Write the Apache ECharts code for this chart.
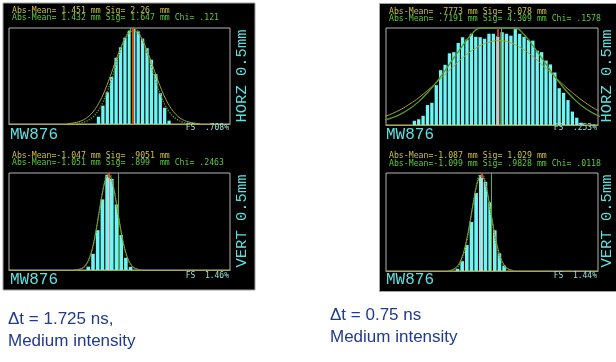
<!DOCTYPE html>
<html><head><meta charset="utf-8">
<script src="https://cdn.jsdelivr.net/npm/echarts@6/dist/echarts.min.js"></script>
<style>html,body{margin:0;padding:0;background:#fff}#c{width:616px;height:362px}</style>
</head><body><div id="c"></div>
<script>
// ---------- data (bin index on x, percent of events on y) ----------
const tlFS = 0.708, trFS = 0.253, blFS = 1.46, brFS = 1.44;

const tlBarStart = 20;
const tlBars = [0.054,0.135,0.234,0.347,0.489,0.566,0.637,0.687,0.701,0.683,0.630,0.559,0.474,0.368,0.227,0.120,0.025];
const tlGreenStart = 15, tlGreenStep = 1;
const tlGreen = [0.004,0.008,0.017,0.033,0.060,0.101,0.160,0.239,0.334,0.440,0.544,0.632,0.690,0.708,0.682,0.617,0.525,0.418,0.314,0.222,0.147,0.091,0.053,0.029,0.015,0.007,0.004];
const tlYellowStart = 13, tlYellowStep = 1;
const tlYellow = [0.003,0.006,0.012,0.022,0.038,0.063,0.099,0.149,0.214,0.293,0.382,0.473,0.559,0.628,0.673,0.687,0.667,0.617,0.542,0.455,0.363,0.276,0.199,0.138,0.091,0.056,0.033,0.019,0.011,0.005,0.003];
const tlMarkers = {red: 27.68, green: 27.2};

const trBarStart = 6;
const trBars = [0.011,0.015,0.024,0.052,0.058,0.104,0.143,0.157,0.187,0.190,0.214,0.229,0.223,0.238,0.230,0.229,0.225,0.238,0.238,0.231,0.242,0.238,0.233,0.250,0.238,0.230,0.222,0.220,0.194,0.190,0.168,0.158,0.137,0.096,0.084,0.065,0.035,0.019,0.006];
const trHighlightBin = 25;
const trYellowStart = -1, trYellowStep = 2;
const trYellow = [0.021,0.030,0.041,0.055,0.071,0.090,0.110,0.132,0.154,0.175,0.193,0.207,0.216,0.220,0.218,0.209,0.196,0.179,0.158,0.137,0.115,0.094,0.075,0.058,0.043,0.032];
const trGreenStart = -1, trGreenStep = 2;
const trGreen = [0.012,0.019,0.029,0.043,0.061,0.084,0.111,0.142,0.175,0.207,0.236,0.253,0.253,0.253,0.253,0.253,0.236,0.207,0.175,0.142,0.111,0.084,0.061,0.043,0.029,0.019];
const trMarkers = {red: 24.9, green: 25.9};

const blBarStart = 17;
const blBars = [0.050,0.244,0.599,1.063,1.431,1.372,0.986,0.526,0.183,0.047];
const blGreenStart = 14, blGreenStep = 0.5;
const blGreen = [0.001,0.003,0.008,0.018,0.036,0.070,0.128,0.219,0.349,0.521,0.729,0.953,1.169,1.342,1.442,1.453,1.369,1.209,0.999,0.772,0.559,0.380,0.241,0.143,0.080,0.042,0.020,0.009,0.004,0.001];
const blYellowStart = 14, blYellowStep = 0.5;
const blYellow = [0.002,0.004,0.010,0.021,0.043,0.080,0.142,0.235,0.366,0.536,0.738,0.954,1.158,1.320,1.414,1.423,1.346,1.194,0.997,0.781,0.575,0.398,0.259,0.157,0.090,0.049,0.024,0.011,0.005];
const blMarkers = {red: 21.45, green: 23.4};

const brBarStart = 15;
const brBars = [0.032,0.144,0.382,0.720,1.145,1.411,1.310,1.008,0.598,0.259,0.079];
const brGreenStart = 13, brGreenStep = 0.5;
const brGreen = [0.003,0.006,0.014,0.029,0.056,0.102,0.176,0.285,0.433,0.619,0.829,1.045,1.238,1.377,1.439,1.411,1.302,1.128,0.917,0.701,0.503,0.340,0.215,0.128,0.072,0.037,0.019,0.009,0.004];
const brYellowStart = 13, brYellowStep = 0.5;
const brYellow = [0.005,0.010,0.021,0.040,0.073,0.127,0.209,0.322,0.472,0.651,0.850,1.047,1.221,1.344,1.399,1.375,1.277,1.121,0.930,0.728,0.540,0.378,0.249,0.155,0.092,0.051,0.027,0.013,0.006];
const brMarkers = {red: 20.15, green: 22.15};

const fitTexts = {
  tl: ['Abs-Mean= 1.451 mm Sig= 2.26  mm', 'Abs-Mean= 1.432 mm Sig= 1.647 mm Chi= .121'],
  tr: ['Abs-Mean= .7773 mm Sig= 5.078 mm', 'Abs-Mean= .7191 mm Sig= 4.309 mm Chi= .1578'],
  bl: ['Abs-Mean=-1.047 mm Sig= .9051 mm', 'Abs-Mean=-1.051 mm Sig= .899  mm Chi= .2463'],
  br: ['Abs-Mean=-1.087 mm Sig= 1.029 mm', 'Abs-Mean=-1.099 mm Sig= .9828 mm Chi= .0118']
};
const fsTexts = {tl: 'FS  .708%', tr: 'FS  .253%', bl: 'FS  1.46%', br: 'FS  1.44%'};
const chamber = 'MW876';
const planeTexts = {top: 'HORZ 0.5mm', bottom: 'VERT 0.5mm'};
const captionLeft = ['\u0394t = 1.725 ns,', 'Medium intensity'];
const captionRight = ['\u0394t = 0.75 ns', 'Medium intensity'];

// ---------- build ----------
function pts(start, step, vals) { return vals.map((v, i) => [start + i * step, v]); }

const CYAN = '#70f4f4', GREEN = '#5a9a2a', YELLOW = '#aca238', RED = '#d04828';
const panels = [
  {grid:{left:9,top:28,width:221,height:96}, xmin:-0.27, xmax:49.8, fs:tlFS, barStart:tlBarStart, bars:tlBars,
   green:pts(tlGreenStart,tlGreenStep,tlGreen), yellow:pts(tlYellowStart,tlYellowStep,tlYellow), mk:tlMarkers, bw:3.3, gType:'dotted', style:'full'},
  {grid:{left:386,top:28,width:212,height:97}, xmin:-0.45, xmax:47.84, fs:trFS, barStart:trBarStart, bars:trBars,
   green:pts(trGreenStart,trGreenStep,trGreen), yellow:pts(trYellowStart,trYellowStep,trYellow), mk:trMarkers, bw:3.3, gType:'solid', style:'tr', hl:trHighlightBin},
  {grid:{left:9,top:173,width:221,height:97}, xmin:0.13, xmax:47.15, fs:blFS, barStart:blBarStart, bars:blBars,
   green:pts(blGreenStart,blGreenStep,blGreen), yellow:pts(blYellowStart,blYellowStep,blYellow), mk:blMarkers, bw:3.6, gType:'dotted', style:'white'},
  {grid:{left:386,top:173,width:212,height:98}, xmin:-0.34, xmax:45.15, fs:brFS, barStart:brBarStart, bars:brBars,
   green:pts(brGreenStart,brGreenStep,brGreen), yellow:pts(brYellowStart,brYellowStep,brYellow), mk:brMarkers, bw:3.6, gType:'dotted', style:'white'}
];

const grids = [], xAxes = [], yAxes = [], series = [];
panels.forEach((p, i) => {
  grids.push(Object.assign({show:true, borderColor:'#b4b4b4', borderWidth:1, backgroundColor:'#000', containLabel:false}, p.grid));
  xAxes.push({type:'value', gridIndex:i, min:p.xmin, max:p.xmax, axisLabel:{show:false}, axisTick:{show:false},
    splitLine:{show:false}, axisLine:{show:true, lineStyle:{color:'#b0a830', width:1.2}}});
  yAxes.push({type:'value', gridIndex:i, min:0, max:p.fs, show:false, splitLine:{show:false}});
  const barData = p.bars.map((v, k) => {
    const x = p.barStart + k;
    if (p.hl !== undefined && x === p.hl) return {value:[x, v], itemStyle:{color:'#c8c8c8'}};
    return [x, v];
  });
  let mlData = [];
  if (p.style === 'full') {
    mlData.push({xAxis:p.mk.red, lineStyle:{color:RED, width:2, type:'solid'}});
  } else if (p.style === 'tr') {
    mlData.push([{coord:[p.mk.red, p.fs], lineStyle:{color:'#c03040', width:2, type:'solid'}}, {coord:[p.mk.red, 0.231]}]);
  } else {
    mlData.push({xAxis:p.mk.red, lineStyle:{color:'#e0d8d8', width:1.5, type:'solid'}});
    mlData.push([{coord:[p.mk.red, p.fs], lineStyle:{color:RED, width:2, type:'solid'}}, {coord:[p.mk.red, p.fs*0.95]}]);
  }
  mlData.push({xAxis:p.mk.green, lineStyle:{color:'#60b030', width:1, type:'solid'}});
  series.push({type:'bar', xAxisIndex:i, yAxisIndex:i, data:barData, barWidth:p.bw, z:2,
    itemStyle:{color:CYAN}, animation:false,
    markLine:{silent:true, symbol:['none','none'], label:{show:false}, animation:false, data:mlData}});
  series.push({type:'line', xAxisIndex:i, yAxisIndex:i, data:p.yellow, smooth:0.4, showSymbol:false, z:3, clip:false,
    lineStyle:{color:YELLOW, width:1}, animation:false});
  series.push({type:'line', xAxisIndex:i, yAxisIndex:i, data:p.green, smooth:0.4, showSymbol:false, z:4, clip:false,
    lineStyle:{color:GREEN, width:1.3, type:p.gType}, animation:false});
});

const MONO = '"DejaVu Sans Mono", monospace';
const BIG = '"Liberation Mono", monospace';
function txt(x, y, t, fill, font, align, rot) {
  const e = {type:'text', x:x, y:y, z:100, silent:true,
    style:{text:t, fill:fill, font:font, align:align || 'left', verticalAlign:'middle'}};
  if (rot) e.rotation = rot;
  return e;
}
const elements = [
  {type:'rect', shape:{x:3, y:3, width:252, height:287}, style:{fill:'#000', stroke:'#a0a0a0', lineWidth:1}, z:-1, silent:true},
  {type:'rect', shape:{x:379.5, y:3.5, width:240, height:288}, style:{fill:'#000', stroke:'#a0a0a0', lineWidth:1}, z:-1, silent:true},
];
const pos = {
  tl:{x:12, y1:11, y2:17.5, mwx:10, mwy:135, fsx:229, fsy:128, px:242, py:76, plane:planeTexts.top},
  tr:{x:389, y1:12, y2:19, mwx:386, mwy:135, fsx:597, fsy:128, px:607, py:76, plane:planeTexts.top},
  bl:{x:12, y1:156, y2:163, mwx:10, mwy:280, fsx:229, fsy:276, px:242, py:221, plane:planeTexts.bottom},
  br:{x:389, y1:156, y2:164, mwx:386, mwy:280, fsx:597, fsy:276, px:607, py:221, plane:planeTexts.bottom}
};
Object.keys(pos).forEach(k => {
  const q = pos[k];
  elements.push(txt(q.x, q.y1, fitTexts[k][0], '#c8c048', '8.2px ' + MONO));
  elements.push(txt(q.x, q.y2, fitTexts[k][1], '#5cc83c', '8.2px ' + MONO));
  elements.push(txt(q.mwx, q.mwy, chamber, '#5ee0e0', '16px ' + BIG));
  elements.push(txt(q.fsx, q.fsy, fsTexts[k], '#8ee0e0', '8px ' + MONO, 'right'));
  elements.push(txt(q.px, q.py, q.plane, '#5ee0e0', '15.5px ' + BIG, 'center', Math.PI / 2));
});
const CAP = '17px "Liberation Sans", Arial, sans-serif';
elements.push(txt(8, 319, captionLeft[0], '#203a90', CAP));
elements.push(txt(8, 341, captionLeft[1], '#203a90', CAP));
elements.push(txt(330, 315, captionRight[0], '#203a90', CAP));
elements.push(txt(330, 337, captionRight[1], '#203a90', CAP));

const chart = echarts.init(document.getElementById('c'), null, {renderer:'canvas'});
chart.setOption({
  animation:false,
  backgroundColor:'#fff',
  grid:grids, xAxis:xAxes, yAxis:yAxes, series:series,
  graphic:{elements:elements}
});
</script></body></html>
